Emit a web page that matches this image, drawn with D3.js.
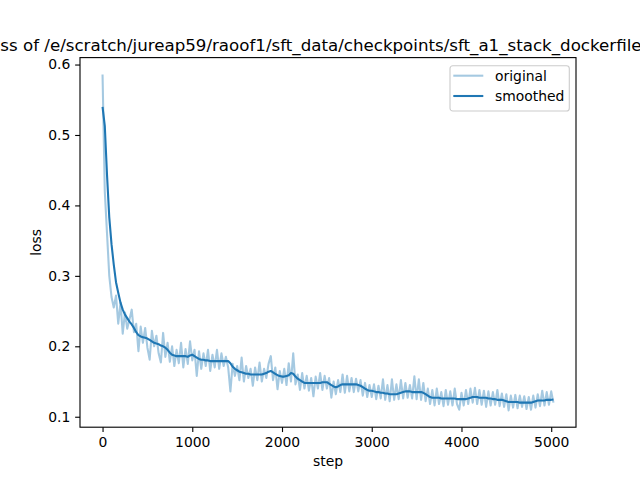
<!DOCTYPE html>
<html>
<head>
<meta charset="utf-8">
<script src="https://cdn.jsdelivr.net/npm/d3@7"></script>
<style>
  body { margin: 0; background: #fff; }
  svg { font-family: "DejaVu Sans", sans-serif; }
</style>
</head>
<body>
<svg id="chart" width="640" height="480"></svg>
<script>
// loss values logged every 25 steps
var logEvery = 25;
var original = [
  0.586, 0.42, 0.36, 0.30, 0.27, 0.255, 0.272, 0.232,
  0.262, 0.218, 0.248, 0.225, 0.238, 0.252, 0.22, 0.232,
  0.193, 0.228, 0.205, 0.226, 0.198, 0.181, 0.222, 0.2,
  0.215, 0.19, 0.177, 0.219, 0.185, 0.205, 0.178, 0.2,
  0.172, 0.195, 0.176, 0.205, 0.17, 0.196, 0.175, 0.207,
  0.18, 0.195, 0.158, 0.193, 0.168, 0.19, 0.172, 0.195,
  0.165, 0.188, 0.17, 0.195, 0.168, 0.19, 0.172, 0.185,
  0.17, 0.136, 0.175, 0.158, 0.172, 0.152, 0.184, 0.15,
  0.172, 0.155, 0.168, 0.144, 0.17, 0.152, 0.177, 0.15,
  0.168, 0.155, 0.175, 0.186, 0.152, 0.17, 0.139, 0.165,
  0.148, 0.168, 0.145, 0.176, 0.15, 0.19, 0.146, 0.16,
  0.138, 0.162, 0.14, 0.158, 0.137, 0.155, 0.129, 0.157,
  0.14, 0.162, 0.138, 0.158, 0.14, 0.155, 0.127, 0.15,
  0.132, 0.152, 0.135, 0.16, 0.134, 0.158, 0.136, 0.155,
  0.135, 0.154, 0.136, 0.152, 0.13, 0.148, 0.128, 0.145,
  0.128, 0.146, 0.125, 0.144, 0.126, 0.153, 0.124, 0.145,
  0.122, 0.153, 0.124, 0.146, 0.125, 0.152, 0.126, 0.148,
  0.127, 0.145, 0.126, 0.1575, 0.125, 0.153, 0.124, 0.148,
  0.122, 0.14, 0.118, 0.138, 0.116, 0.14, 0.118, 0.135,
  0.115, 0.138, 0.117, 0.136, 0.116, 0.14, 0.118, 0.11,
  0.134, 0.116, 0.138, 0.118, 0.14, 0.12, 0.141, 0.118,
  0.138, 0.117, 0.137, 0.114, 0.136, 0.116, 0.135, 0.117,
  0.138, 0.115, 0.133, 0.114, 0.132, 0.109, 0.13, 0.113,
  0.131, 0.112, 0.13, 0.114, 0.129, 0.111, 0.128, 0.11,
  0.13, 0.113, 0.132, 0.115, 0.137, 0.116, 0.135, 0.117,
  0.136, 0.12
];
var smoothed = [
  0.54, 0.513, 0.443, 0.383, 0.345, 0.316, 0.291, 0.276,
  0.262, 0.252, 0.245, 0.240, 0.235, 0.231, 0.226, 0.220,
  0.216, 0.214, 0.213, 0.212, 0.211, 0.209, 0.207, 0.205,
  0.204, 0.203, 0.201, 0.200, 0.198, 0.195, 0.191, 0.188,
  0.187, 0.186, 0.186, 0.186, 0.186, 0.186, 0.185, 0.187,
  0.188, 0.186, 0.184, 0.182, 0.181, 0.181, 0.180, 0.180,
  0.179, 0.179, 0.179, 0.179, 0.179, 0.179, 0.179, 0.179,
  0.179, 0.176, 0.171, 0.168, 0.166, 0.164, 0.163, 0.162,
  0.161, 0.161, 0.160, 0.160, 0.160, 0.160, 0.160, 0.160,
  0.161, 0.162, 0.164, 0.165, 0.163, 0.161, 0.159, 0.158,
  0.157, 0.157, 0.158, 0.159, 0.162, 0.161, 0.157, 0.154,
  0.152, 0.150, 0.148, 0.148, 0.148, 0.148, 0.148, 0.148,
  0.148, 0.148, 0.149, 0.149, 0.149, 0.147, 0.145, 0.143,
  0.142, 0.143, 0.145, 0.146, 0.146, 0.146, 0.146, 0.146,
  0.146, 0.146, 0.145, 0.144, 0.142, 0.140, 0.138, 0.137,
  0.137, 0.136, 0.135, 0.135, 0.134, 0.134, 0.133, 0.133,
  0.132, 0.132, 0.132, 0.132, 0.133, 0.134, 0.135, 0.136,
  0.136, 0.136, 0.135, 0.135, 0.135, 0.135, 0.135, 0.134,
  0.132, 0.130, 0.128, 0.127, 0.127, 0.127, 0.127, 0.126,
  0.126, 0.126, 0.126, 0.126, 0.126, 0.126, 0.125, 0.125,
  0.125, 0.125, 0.125, 0.126, 0.127, 0.128, 0.128, 0.128,
  0.127, 0.127, 0.127, 0.127, 0.126, 0.126, 0.125, 0.125,
  0.124, 0.124, 0.124, 0.123, 0.122, 0.121, 0.121, 0.121,
  0.121, 0.121, 0.120, 0.120, 0.120, 0.120, 0.120, 0.120,
  0.121, 0.122, 0.123, 0.123, 0.123, 0.123, 0.124, 0.124,
  0.124, 0.1245
];
var xTicks = [0, 1000, 2000, 3000, 4000, 5000];
var yTicks = [0.1, 0.2, 0.3, 0.4, 0.5, 0.6];
var titleText = "Loss of /e/scratch/jureap59/raoof1/sft_data/checkpoints/sft_a1_stack_dockerfile_";
var seriesNames = ["original", "smoothed"];

var color = "#1f77b4";
var pt = 100 / 72; // matplotlib points -> px at 100 dpi

var svg = d3.select("svg#chart"),
  margin = {top: 57.6, right: 64, bottom: 52.8, left: 80},
  width = +svg.attr("width") - margin.left - margin.right,
  height = +svg.attr("height") - margin.top - margin.bottom,
  g = svg.append("g").attr("transform", "translate(" + margin.left + "," + margin.top + ")");

var step = function(d, i) { return i * logEvery; };

// matplotlib style 5% margins
var xMax = (original.length - 1) * logEvery;
var xPad = xMax * 0.05;
var allY = original.concat(smoothed);
var yMin = d3.min(allY), yMax = d3.max(allY), yPad = (yMax - yMin) * 0.05;

var x = d3.scaleLinear().domain([-xPad, xMax + xPad]).range([0, width]);
var y = d3.scaleLinear().domain([yMin - yPad, yMax + yPad]).range([height, 0]);

var tick = 3.5 * pt;

var xAxis = d3.axisBottom(x).tickValues(xTicks).tickSize(tick).tickPadding(tick).tickSizeOuter(0)
  .tickFormat(d3.format("d"));
var yAxis = d3.axisLeft(y).tickValues(yTicks).tickSize(tick).tickPadding(tick).tickSizeOuter(0)
  .tickFormat(d3.format(".1f"));

function styleAxis(a) {
  a.select(".domain").remove();
  a.selectAll(".tick line").attr("stroke", "#000").attr("stroke-width", 0.8 * pt);
  a.selectAll(".tick text").attr("fill", "#000").style("font-size", "13.9px")
    .style("font-family", "DejaVu Sans");
}

g.append("g").attr("transform", "translate(0," + height + ")").call(xAxis).call(styleAxis);
g.append("g").call(yAxis).call(styleAxis);

var line = d3.line().x(function(d, i) { return x(step(d, i)); }).y(function(d) { return y(d); });

g.append("path").datum(original)
  .attr("fill", "none").attr("stroke", color).attr("stroke-opacity", 0.4)
  .attr("stroke-width", 1.5 * pt).attr("stroke-linejoin", "round").attr("d", line);

g.append("path").datum(smoothed)
  .attr("fill", "none").attr("stroke", color)
  .attr("stroke-width", 1.5 * pt).attr("stroke-linejoin", "round").attr("d", line);

// spines
g.append("rect").attr("width", width).attr("height", height)
  .attr("fill", "none").attr("stroke", "#000").attr("stroke-width", 0.8 * pt);

// labels
svg.append("text").attr("x", margin.left + width / 2).attr("y", 466)
  .attr("text-anchor", "middle").style("font-size", "13.9px").text("step");
svg.append("text").attr("transform", "translate(41," + (margin.top + height / 2) + ") rotate(-90)")
  .attr("text-anchor", "middle").style("font-size", "13.9px").text("loss");

// title is wider than the figure, only the middle part shows
var title = svg.append("text").attr("y", 50.5).style("font-size", "16.67px").text(titleText);
var probe = svg.append("text").style("font-size", "16.67px").text("Lo");
var loW = probe.node().getComputedTextLength();
probe.remove();
title.attr("x", 0.3 - loW);

// legend
var lg = svg.append("g").attr("transform", "translate(450,65.7)");
lg.append("rect").attr("width", 119.3).attr("height", 45.3).attr("rx", 2.8)
  .attr("fill", "#fff").attr("fill-opacity", 0.8).attr("stroke", "#cccccc").attr("stroke-width", 0.8 * pt);
seriesNames.forEach(function(name, i) {
  var yy = 10 + i * 20.3;
  lg.append("line").attr("x1", 3.3).attr("x2", 33.3).attr("y1", yy).attr("y2", yy)
    .attr("stroke", color).attr("stroke-width", 1.5 * pt).attr("stroke-opacity", i === 0 ? 0.4 : 1);
  lg.append("text").attr("x", 45).attr("y", yy + 5.5).style("font-size", "13.9px").text(name);
});
</script>
</body>
</html>
